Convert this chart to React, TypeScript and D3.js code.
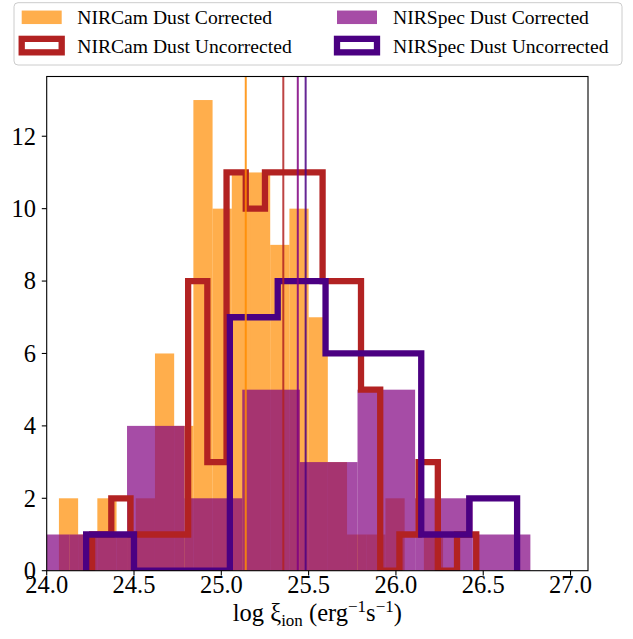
import React from 'react';
import * as d3 from 'd3';

// Histogram bin edges and counts, log xi_ion (erg^-1 s^-1)
const nircamCorrectedEdges = [24.07, 24.18, 24.29, 24.40, 24.51, 24.62, 24.73, 24.84, 24.95, 25.06, 25.17, 25.28, 25.39, 25.50, 25.61, 25.72, 25.83, 25.94, 26.05, 26.16, 26.27];
const nircamCorrectedCounts = [2, 1, 2, 1, 2, 6, 4, 13, 10, 11, 11, 9, 10, 7, 3, 1, 1, 2, 0, 1];

const nircamUncorrectedEdges = [24.26, 24.37, 24.48, 24.59, 24.70, 24.81, 24.92, 25.03, 25.14, 25.25, 25.36, 25.47, 25.58, 25.69, 25.80, 25.91, 26.02, 26.13, 26.24, 26.35, 26.46];
const nircamUncorrectedCounts = [1, 2, 1, 1, 1, 8, 3, 11, 10, 11, 11, 11, 8, 8, 5, 0, 1, 3, 0, 1];

const nirspecCorrectedEdges = [23.80, 24.13, 24.46, 24.79, 25.12, 25.45, 25.78, 26.11, 26.44, 26.77];
const nirspecCorrectedCounts = [1, 1, 4, 2, 5, 3, 5, 2, 1];

const nirspecUncorrectedEdges = [24.226, 24.50, 24.774, 25.049, 25.323, 25.597, 25.871, 26.145, 26.42, 26.694];
const nirspecUncorrectedCounts = [1, 0, 0, 7, 8, 6, 6, 1, 2];

// Medians of each sample
const medianValues = [25.14, 25.355, 25.438, 25.483];
const medianColors = ['#FF8C00', '#B22222', '#800080', '#4B0082'];

const xTicks = [24.0, 24.5, 25.0, 25.5, 26.0, 26.5, 27.0];
const yTicks = [0, 2, 4, 6, 8, 10, 12];

const legendLabels = ['NIRCam Dust Corrected', 'NIRCam Dust Uncorrected', 'NIRSpec Dust Corrected', 'NIRSpec Dust Uncorrected'];

const W = 633;
const H = 639;
const plot = { left: 46.7, right: 588, top: 76.5, bottom: 570.7 };
const FONT = '"Liberation Serif", "Times New Roman", serif';

const ORANGE = '#FF8C00';
const PURPLE = '#800080';
const FIREBRICK = '#B22222';
const INDIGO = '#4B0082';
const STEP_W = 6.3;

export default function App() {
  const x = d3.scaleLinear().domain([24.0, 27.1]).range([plot.left, plot.right]);
  const y = d3.scaleLinear().domain([0, 13.65]).range([plot.bottom, plot.top]);

  const bars = (edges: number[], counts: number[], color: string, key: string) =>
    counts.map((c, i) =>
      c > 0 ? (
        <rect
          key={`${key}-${i}`}
          x={x(edges[i])}
          y={y(c)}
          width={x(edges[i + 1]) - x(edges[i])}
          height={y(0) - y(c)}
          fill={color}
          fillOpacity={0.7}
        />
      ) : null
    );

  const stepPath = (edges: number[], counts: number[]) => {
    const pts: [number, number][] = [[edges[0], 0]];
    counts.forEach((c, i) => {
      pts.push([edges[i], c]);
      pts.push([edges[i + 1], c]);
    });
    pts.push([edges[edges.length - 1], 0]);
    return d3.line<[number, number]>().x((d) => x(d[0])).y((d) => y(d[1]))(pts) || '';
  };

  const legendRows = [17.3, 45.6];
  const legendCols = [{ hx: 21.7, tx: 77.3 }, { hx: 337, tx: 393 }];
  const hw = 40;
  const hh = 13.5;
  const fs = 19.6;

  return (
    <svg width={W} height={H} style={{ position: 'absolute', left: 0, top: 0, background: '#fff' }}>
      <defs>
        <clipPath id="plotClip">
          <rect x={plot.left} y={plot.top} width={plot.right - plot.left} height={plot.bottom - plot.top} />
        </clipPath>
      </defs>

      <g clipPath="url(#plotClip)">
        {bars(nircamCorrectedEdges, nircamCorrectedCounts, ORANGE, 'nc')}
        {bars(nirspecCorrectedEdges, nirspecCorrectedCounts, PURPLE, 'ns')}
        <path d={stepPath(nircamUncorrectedEdges, nircamUncorrectedCounts)} fill="none" stroke={FIREBRICK} strokeWidth={STEP_W} strokeLinejoin="miter" />
        <path d={stepPath(nirspecUncorrectedEdges, nirspecUncorrectedCounts)} fill="none" stroke={INDIGO} strokeWidth={STEP_W} strokeLinejoin="miter" />
        {medianValues.map((m, i) => (
          <line key={`med-${i}`} x1={x(m)} x2={x(m)} y1={plot.top} y2={plot.bottom} stroke={medianColors[i]} strokeWidth={2} strokeOpacity={0.85} />
        ))}
      </g>

      {/* axes frame */}
      <rect x={plot.left} y={plot.top} width={plot.right - plot.left} height={plot.bottom - plot.top} fill="none" stroke="#000" strokeWidth={1.1} />

      {/* x axis ticks */}
      {xTicks.map((t) => (
        <g key={`xt-${t}`}>
          <line x1={x(t)} x2={x(t)} y1={plot.bottom} y2={plot.bottom + 4.9} stroke="#000" strokeWidth={1.1} />
          <text x={x(t)} y={593} textAnchor="middle" fontFamily={FONT} fontSize={24.5} fill="#000">
            {t.toFixed(1)}
          </text>
        </g>
      ))}

      {/* y axis ticks */}
      {yTicks.map((t) => (
        <g key={`yt-${t}`}>
          <line x1={plot.left - 4.9} x2={plot.left} y1={y(t)} y2={y(t)} stroke="#000" strokeWidth={1.1} />
          <text x={36} y={y(t) + 8.3} textAnchor="end" fontFamily={FONT} fontSize={24.5} fill="#000">
            {t}
          </text>
        </g>
      ))}

      {/* x axis label */}
      <text x={(plot.left + plot.right) / 2} y={621} textAnchor="middle" fontFamily={FONT} fontSize={24.5} fill="#000">
        <tspan>log ξ</tspan>
        <tspan fontSize={17} dy={5}>ion</tspan>
        <tspan dy={-5}> (erg</tspan>
        <tspan fontSize={17} dy={-9}>−1</tspan>
        <tspan dy={9}>s</tspan>
        <tspan fontSize={17} dy={-9}>−1</tspan>
        <tspan dy={9}>)</tspan>
      </text>

      {/* legend */}
      <g>
        <rect x={14} y={2.7} width={608} height={62.3} rx={4} fill="#fff" fillOpacity={0.8} stroke="#cccccc" strokeWidth={1} />
        {/* NIRCam corrected */}
        <rect x={legendCols[0].hx} y={legendRows[0] - hh / 2} width={hw} height={hh} fill={ORANGE} fillOpacity={0.7} />
        <text x={legendCols[0].tx} y={24} fontFamily={FONT} fontSize={fs} fill="#000">{legendLabels[0]}</text>
        {/* NIRCam uncorrected */}
        <rect x={legendCols[0].hx} y={legendRows[1] - hh / 2} width={hw} height={hh} fill="none" stroke={FIREBRICK} strokeWidth={STEP_W} />
        <text x={legendCols[0].tx} y={53.3} fontFamily={FONT} fontSize={fs} fill="#000">{legendLabels[1]}</text>
        {/* NIRSpec corrected */}
        <rect x={legendCols[1].hx} y={legendRows[0] - hh / 2} width={hw} height={hh} fill={PURPLE} fillOpacity={0.7} />
        <text x={legendCols[1].tx} y={24} fontFamily={FONT} fontSize={fs} fill="#000">{legendLabels[2]}</text>
        {/* NIRSpec uncorrected */}
        <rect x={legendCols[1].hx} y={legendRows[1] - hh / 2} width={hw} height={hh} fill="none" stroke={INDIGO} strokeWidth={STEP_W} />
        <text x={legendCols[1].tx} y={53.3} fontFamily={FONT} fontSize={fs} fill="#000">{legendLabels[3]}</text>
      </g>
    </svg>
  );
}
